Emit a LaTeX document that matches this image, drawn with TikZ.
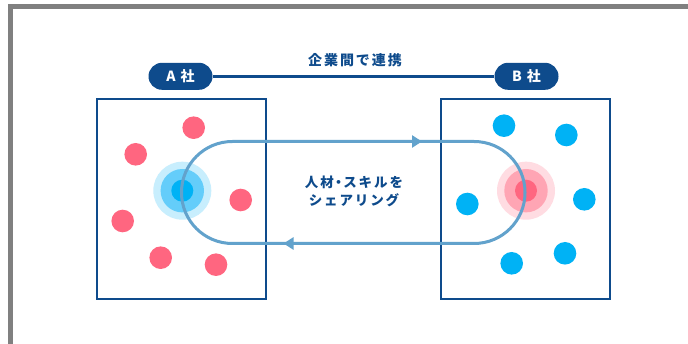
\documentclass[tikz,border=0pt]{standalone}
\usepackage{fontspec}
\newfontfamily\jpfont{Noto Sans CJK JP}
\newfontfamily\jpspaced{Noto Sans CJK JP}[LetterSpace=14]
\usetikzlibrary{arrows.meta}
\definecolor{navy}{RGB}{14,75,140}
\definecolor{framegray}{RGB}{128,128,128}
\definecolor{loopblue}{RGB}{98,162,204}
\definecolor{pinkdot}{RGB}{255,102,128}
\definecolor{pinkmid}{RGB}{255,165,180}
\definecolor{pinklight}{RGB}{255,220,226}
\definecolor{cyandot}{RGB}{0,178,245}
\definecolor{cyanmid}{RGB}{100,205,250}
\definecolor{cyanlight}{RGB}{200,238,253}

\begin{document}
\begin{tikzpicture}[x=1pt,y=-1pt,
  company/.style={fill=navy, text=white, rounded corners=13.5pt, minimum width=64pt,
    minimum height=27pt, inner sep=0pt, font=\fontsize{14}{16}\jpfont\bfseries},
  firmbox/.style={draw=navy, line width=2.2pt, minimum width=169pt, minimum height=200pt, inner sep=0pt},
  loopline/.style={draw=loopblue, line width=3pt}]
\useasboundingbox (0,0) rectangle (688,344);
\fill[white] (0,0) rectangle (688,344);
\draw[line width=5pt, framegray] (10,344) -- (10,6.7) -- (688,6.7);

% companies and their link
\node[company] (A) at (180.5,76.3) {A\hspace{5pt}社};
\node[company] (B) at (526.5,76.3) {B\hspace{5pt}社};
\draw[navy, line width=3pt] (A) -- (B);
\node[text=navy, font=\fontsize{14}{16}\jpspaced\bfseries] (link) at (355,60.5) {企業間で連携};

% the two firms
\node[firmbox] (boxA) at (181.5,199) {};
\node[firmbox] (boxB) at (525.5,199) {};

% people in firm A, with a guest from B
\fill[cyanlight] (182.3,190.7) circle (29pt);
\fill[cyanmid] (182.3,190.7) circle (21.7pt);
\fill[cyandot] (182.3,190.7) circle (11pt);
\foreach \x/\y in {193.7/127.7, 135.7/154.3, 240.7/200, 122.7/221, 160.7/257.7, 216/264.7}
  \fill[pinkdot] (\x,\y) circle (11.3pt);

% people in firm B, with a guest from A
\fill[pinklight] (526,190.7) circle (29pt);
\fill[pinkmid] (526,190.7) circle (21.7pt);
\fill[pinkdot] (526,190.7) circle (11pt);
\foreach \x/\y in {504/125.7, 566.3/135, 467.3/204, 584.3/199.3, 511.7/263.3, 565/253.3}
  \fill[cyandot] (\x,\y) circle (11.3pt);

% sharing loop
\draw[loopline, rounded corners=50.9pt] (181.5,141.5) rectangle (525,243.5);
\draw[loopline, -{Triangle[length=10pt,width=12pt]}] (400,141.5) -- (422,141.5);
\draw[loopline, -{Triangle[length=10pt,width=12pt]}] (305,243.5) -- (283.5,243.5);
\node[align=center, text=navy, font=\fontsize{13.5}{18.5}\jpspaced\bfseries] (share) at (354,191.5)
  {人材\kern-2pt・\kern-2pt スキルを\\シェアリング};
\end{tikzpicture}
\end{document}
